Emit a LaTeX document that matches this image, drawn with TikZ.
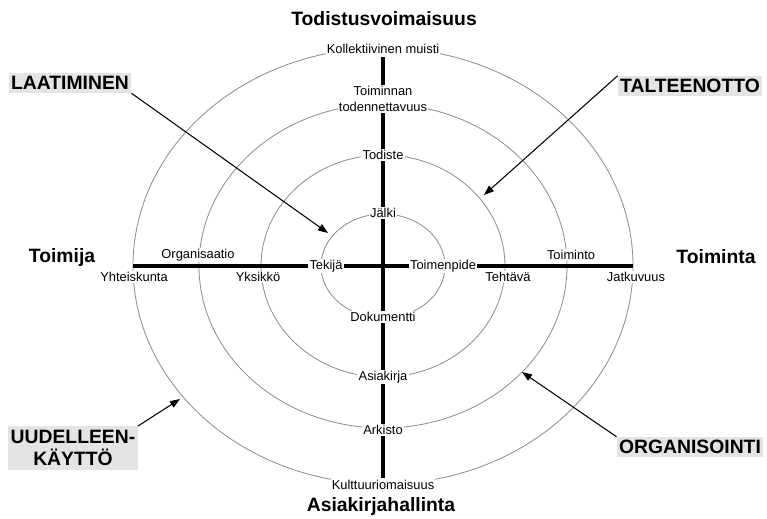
\documentclass[tikz,border=0pt]{standalone}
\usepackage{fontspec}
\setmainfont{Liberation Sans}
\usetikzlibrary{arrows.meta}
\definecolor{RingGrey}{HTML}{8C8C8C}
\definecolor{TagFill}{HTML}{E4E4E4}

\begin{document}
\begin{tikzpicture}[
  x=0.03cm,y=-0.03cm,
  ring/.style={draw=RingGrey,line width=.7pt},
  axis/.style={draw=black,line width=3.6pt},
  lbl/.style={fill=white,inner sep=1pt,font=\fontsize{11}{13}\selectfont},
  pole/.style={font=\fontsize{16.5}{19}\selectfont\bfseries},
  tag/.style={fill=TagFill,inner xsep=2pt,inner ysep=0pt,minimum height=6mm,
    font=\fontsize{16.5}{19.5}\selectfont\bfseries},
  arrow/.style={-{Triangle[length=3mm,width=2.2mm]},line width=.9pt}
]
\useasboundingbox (0,0) rectangle (767,518);
\coordinate (centre) at (383,266);

% rings
\draw[ring] (centre) ellipse [x radius=250,y radius=218];
\draw[ring] (centre) ellipse [x radius=184,y radius=162];
\draw[ring] (centre) ellipse [x radius=122,y radius=111];
\draw[ring] (centre) ellipse [x radius=62,y radius=52];

% axes
\coordinate (axisW) at (133,266);
\coordinate (axisE) at (633,266);
\coordinate (axisN) at (383,57);
\coordinate (axisS) at (383,478);
\draw[axis] (axisW) -- (axisE);
\draw[axis] (axisN) -- (axisS);

% vertical axis labels
\node[lbl] (muisti) at (383,49) {Kollektiivinen muisti};
\node[lbl,align=center] (todennettavuus) at (383,99) {Toiminnan\\todennettavuus};
\node[lbl] (todiste) at (383,155) {Todiste};
\node[lbl] (jalki) at (383,213) {Jälki};
\node[lbl] (dokumentti) at (383,317) {Dokumentti};
\node[lbl] (asiakirja) at (383,377) {Asiakirja};
\node[lbl] (arkisto) at (383,430) {Arkisto};
\node[lbl] (kulttuuri) at (383,485) {Kulttuuriomaisuus};

% horizontal axis labels
\node[lbl] (tekija) at (326,266) {Tekijä};
\node[lbl] (toimenpide) at (443,266) {Toimenpide};
\node[lbl] (yksikko) at (258,277) {Yksikkö};
\node[lbl] (tehtava) at (508,277) {Tehtävä};
\node[lbl] (organisaatio) at (198,255) {Organisaatio};
\node[lbl] (yhteiskunta) at (134,277) {Yhteiskunta};
\node[lbl] (toiminto) at (571,255) {Toiminto};
\node[lbl] (jatkuvuus) at (636,277) {Jatkuvuus};

% poles
\node[pole] (todistus) at (384,19) {Todistusvoimaisuus};
\node[pole] (hallinta) at (381,506) {Asiakirjahallinta};
\node[pole] (toimija) at (62,257) {Toimija};
\node[pole] (toiminta) at (716,257) {Toiminta};

% stages
\node[tag] (laatiminen) at (70,83) {LAATIMINEN};
\node[tag] (talteenotto) at (690,86) {TALTEENOTTO};
\node[tag] (organisointi) at (690,447) {ORGANISOINTI};
\node[tag,align=center,minimum height=13mm] (kaytto) at (73,448) {UUDELLEEN-\\KÄYTTÖ};

\coordinate (laatTip) at (328,233);
\coordinate (talTip) at (484,195);
\coordinate (orgTip) at (522,372);
\coordinate (kayTip) at (180,399);
\draw[arrow] (laatiminen.south east) -- (laatTip);
\draw[arrow] (talteenotto.north west) -- (talTip);
\draw[arrow] (organisointi.north west) -- (orgTip);
\draw[arrow] (kaytto.north east) -- (kayTip);
\end{tikzpicture}
\end{document}
